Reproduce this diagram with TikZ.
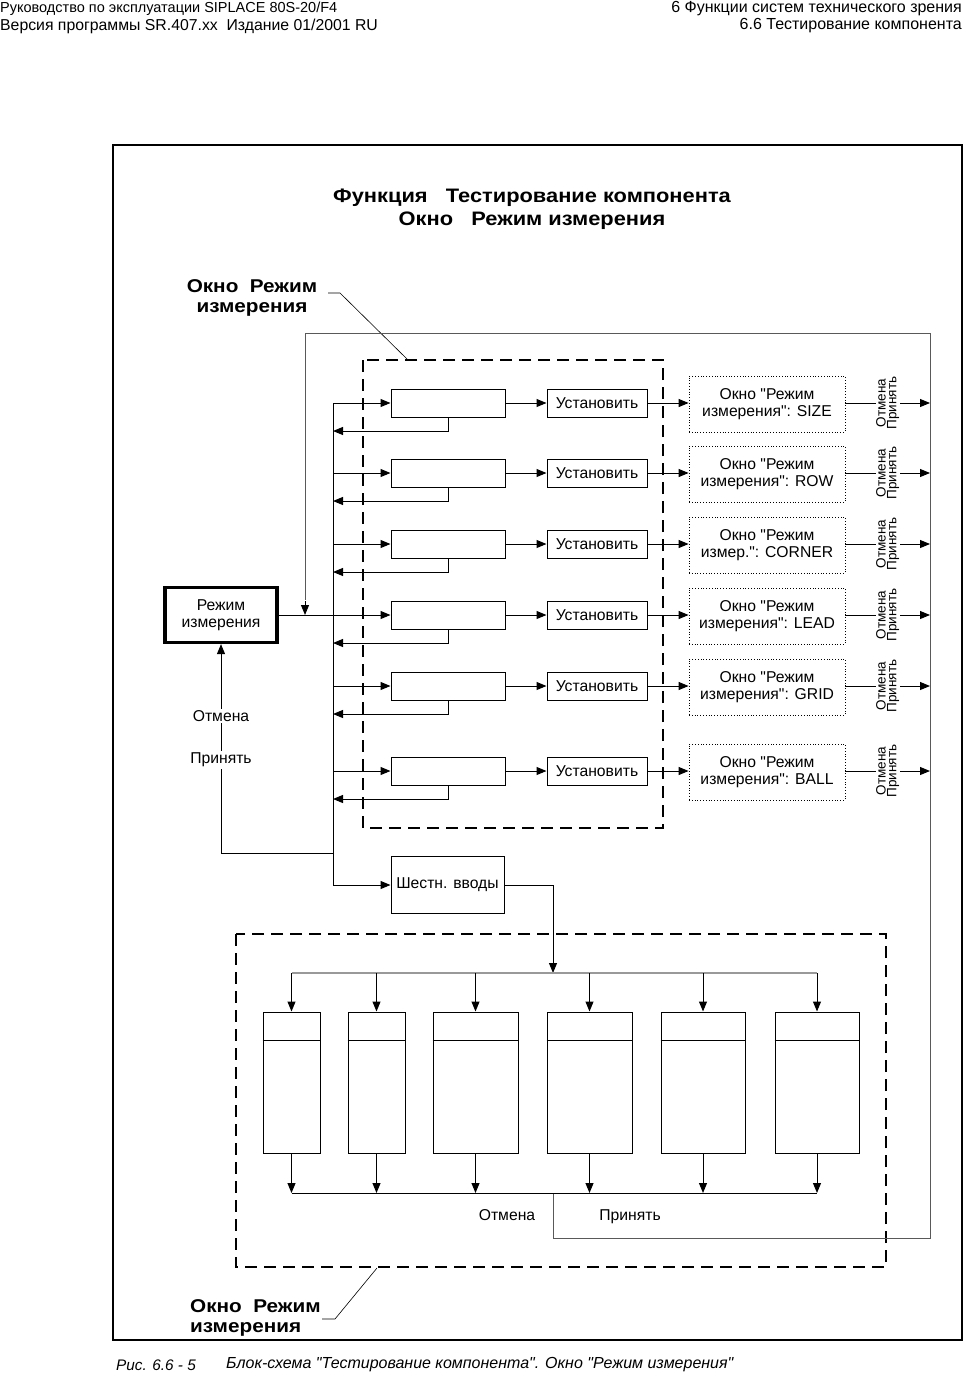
\documentclass[tikz,border=0pt]{standalone}
\usepackage{fontspec}
\setmainfont{Liberation Sans}
\newfontfamily\mf{Liberation Sans}
\newfontfamily\wf{Liberation Sans}[FakeStretch=1.12]
\usetikzlibrary{arrows.meta}
\begin{document}
\begin{tikzpicture}[x=1pt,y=-1pt]
\tikzset{
 every node/.style={font=\mf\fontsize{15.7}{17}\selectfont, inner sep=0pt},
 ln/.style={line width=1pt},
 arr/.style={line width=1pt, -{Triangle[length=10pt,width=8pt]}},
 rbox/.style={draw, line width=1pt, minimum width=114pt, minimum height=28pt},
 sbox/.style={draw, line width=1pt, minimum width=100pt, minimum height=28pt},
 dbox/.style={draw, dotted, line width=0.8pt, minimum width=156pt, minimum height=56pt, align=center, font=\mf\fontsize{15.7}{16.5}\selectfont},
 cbox/.style={draw, line width=1pt, minimum height=141pt},
 dashbox/.style={line width=2pt, dash pattern=on 12pt off 7pt},
 lbl/.style={fill=white, inner sep=1.5pt},
 vlbl/.style={rotate=90, fill=white, inner sep=0.6pt, font=\mf\fontsize{13.5}{13.5}\selectfont},
 hdr/.style={font=\mf\fontsize{#1}{16}\selectfont},
 titletext/.style={font=\wf\bfseries\fontsize{19.5}{23}\selectfont, align=center},
 leadtext/.style={font=\wf\bfseries\fontsize{18.5}{20}\selectfont, align=center},
 captext/.style={font=\mf\itshape\fontsize{#1}{16}\selectfont},
 loopln/.style={line width=1pt, draw=black!65}
}
\useasboundingbox (0,0) rectangle (964,1378);

% header
\node[hdr=14.5, anchor=west] (hl1) at (0,9) {Руководство по эксплуатации SIPLACE 80S-20/F4};
\node[hdr=15.8, anchor=west] (hl2) at (0,26) {Версия программы SR.407.xx\ \ Издание 01/2001 RU};
\node[hdr=16, anchor=east] (hr1) at (962,9) {6 Функции систем технического зрения};
\node[hdr=16, anchor=east] (hr2) at (962,26) {6.6 Тестирование компонента};

% frame
\draw[line width=1.3pt] (113,145) rectangle (962,1340);

% title
\node[titletext] (title) at (532,209) {Функция\ \ \ Тестирование компонента\\Окно\ \ \ Режим измерения};

% dashed boxes
\draw[dashbox] (363,360) rectangle (663,828);
\draw[dashbox] (236,934) rectangle (886,1267);

% leader labels
\node[leadtext] (lt) at (252,298) {Окно\ \ Режим\\измерения};
\draw[line width=0.6pt] (328,293) -- (340,293) -- (408,360);
\node[leadtext, align=left, anchor=west] (lb) at (190,1318) {Окно\ \ Режим\\измерения};
\draw[line width=0.6pt] (322,1319) -- (335,1319) -- (377,1268);

% big loop line
\coordinate (lp0) at (553,1193);
\coordinate (lp1) at (553,1238);
\coordinate (lp2) at (930,1238);
\coordinate (lp3) at (930,333);
\coordinate (lp4) at (305,333);
\coordinate (lp5) at (305,615);
\draw[loopln] (lp0) -- (lp1) -- (lp2) -- (lp3) -- (lp4) -- (305,600);
\draw[arr] (305,601) -- (lp5);

% mode box
\node[draw, line width=3.2pt, minimum width=112pt, minimum height=55pt, align=center] (m) at (221,615) {Режим\\измерения};

% vertical bus
\coordinate (bt) at (333,403);
\coordinate (bb) at (333,885);
\coordinate (bm) at (333,853);
\draw[ln] (bt) -- (bb);

% rows
\foreach \i/\c/\t in {1/403/{измерения": SIZE},2/473/{измерения": ROW},3/544/{измер.": CORNER},4/615/{измерения": LEAD},5/686/{измерения": GRID},6/771/{измерения": BALL}}{
  \node[rbox] (r\i) at (448,\c) {};
  \node[sbox] (s\i) at (597,\c) {Установить};
  \node[dbox] (d\i) at (767,{\c+1}) {Окно "Режим\\\t};
  \coordinate (bi\i) at (333,\c);
  \coordinate (br\i) at (333,{\c+28});
  \coordinate (o\i) at (930,\c);
  \draw[arr] (r\i.east) -- (s\i.west);
  \draw[arr] (s\i.east) -- (d\i.west |- s\i.east);
  \draw[arr] (r\i.south) |- (br\i);
  \draw[arr] (d\i.east |- o\i) -- (o\i);
  \node[vlbl] (ot\i) at (881,\c) {Отмена};
  \node[vlbl] (pr\i) at (893,\c) {Принять};
}
\foreach \i in {1,2,3,5,6}{\draw[arr] (bi\i) -- (r\i.west);}
\draw[arr] (m.east) -- (r4.west);

% return to mode box
\draw[arr] (bm) -| (m.south);
\node[lbl] (mo) at (221,716) {Отмена};
\node[lbl] (mp) at (221,760) {Принять};

% hex inputs
\node[draw, line width=1pt, minimum width=113pt, minimum height=57pt] (hex) at (447.5,885) {Шестн. вводы};
\draw[arr] (bb) -- (hex.west);
\coordinate (hd) at (553,973);
\draw[arr] (hex.east) -| (hd);
\draw[line width=1.2pt, draw=black!40] (291.5,973) -- (817,973);

% columns
\foreach \i/\x/\w in {1/291.5/57,2/376.5/57,3/475.5/85,4/589.5/85,5/703/84,6/817/84}{
  \node[cbox, minimum width=\w pt] (c\i) at (\x,1082.5) {};
  \draw[ln] ([yshift=-29pt]c\i.north west) -- ([yshift=-29pt]c\i.north east);
  \coordinate (ct\i) at (\x,973);
  \coordinate (cb\i) at (\x,1193);
  \draw[arr] (ct\i) -- (c\i.north);
  \draw[arr] (c\i.south) -- (cb\i);
}
\draw[ln] (cb1) -- (cb6);
\node[anchor=base] (bo) at (507,1220) {Отмена};
\node[anchor=base] (bp) at (630,1220) {Принять};

% caption
\node[captext=15.3, anchor=west] (cap1) at (116,1365) {Рис. 6.6 - 5};
\node[captext=16, anchor=west] (cap2) at (226,1365) {Блок-схема "Тестирование компонента". Окно "Режим измерения"};
\end{tikzpicture}
\end{document}
